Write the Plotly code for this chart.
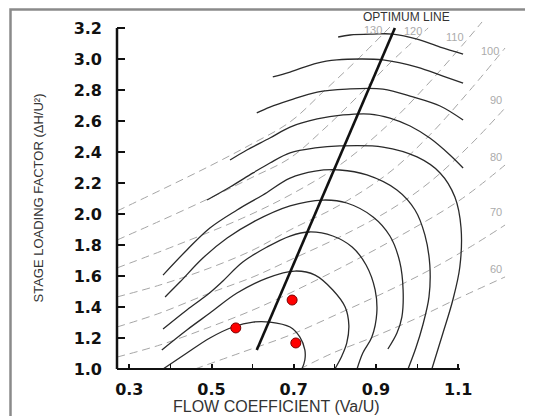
import plotly.graph_objects as go

# ---------------- data ----------------
c1_x = [0.808, 0.837, 0.893, 0.941, 1.000, 1.056, 1.112]
c1_y = [3.142, 3.155, 3.161, 3.161, 3.129, 3.077, 3.032]
c2_x = [0.649, 0.691, 0.757, 0.805, 0.861, 0.917, 1.000, 1.063, 1.112]
c2_y = [2.884, 2.916, 2.974, 2.994, 3.000, 2.994, 2.948, 2.890, 2.845]
c3_x = [0.610, 0.642, 0.691, 0.757, 0.829, 0.917, 0.990, 1.056, 1.112]
c3_y = [2.652, 2.690, 2.735, 2.787, 2.806, 2.806, 2.755, 2.697, 2.606]
c4_x = [0.545, 0.586, 0.642, 0.691, 0.757, 0.820, 0.885, 0.934, 0.983, 1.031, 1.080, 1.112]
c4_y = [2.348, 2.413, 2.490, 2.561, 2.613, 2.639, 2.645, 2.619, 2.568, 2.490, 2.381, 2.297]
c5_x = [0.489, 0.545, 0.601, 0.642, 0.691, 0.752, 0.812, 0.917, 1.000, 1.056, 1.092, 1.107, 1.104, 1.087, 1.063, 1.036]
c5_y = [2.090, 2.174, 2.265, 2.329, 2.394, 2.426, 2.439, 2.432, 2.368, 2.265, 2.110, 1.910, 1.658, 1.445, 1.232, 1.000]
c6_x = [0.382, 0.440, 0.496, 0.562, 0.625, 0.691, 0.752, 0.812, 0.878, 0.951, 0.995, 1.019, 1.031, 1.029, 1.014, 0.997, 0.978]
c6_y = [1.606, 1.768, 1.910, 2.026, 2.123, 2.232, 2.277, 2.284, 2.252, 2.155, 2.026, 1.865, 1.671, 1.465, 1.284, 1.135, 1.000]
c7_x = [0.387, 0.423, 0.479, 0.538, 0.601, 0.691, 0.771, 0.829, 0.893, 0.934, 0.958, 0.966, 0.963, 0.951, 0.929]
c7_y = [1.465, 1.561, 1.716, 1.845, 1.948, 2.052, 2.090, 2.071, 1.981, 1.858, 1.690, 1.510, 1.335, 1.232, 1.129]
c8_x = [0.382, 0.440, 0.489, 0.525, 0.576, 0.635, 0.691, 0.739, 0.795, 0.842, 0.876, 0.898, 0.902, 0.890, 0.868, 0.854]
c8_y = [1.258, 1.381, 1.477, 1.561, 1.690, 1.787, 1.858, 1.884, 1.858, 1.787, 1.671, 1.510, 1.361, 1.206, 1.103, 1.000]
c9_x = [0.379, 0.440, 0.496, 0.562, 0.635, 0.703, 0.752, 0.795, 0.825, 0.834, 0.829, 0.817, 0.800]
c9_y = [1.123, 1.252, 1.361, 1.490, 1.587, 1.632, 1.606, 1.510, 1.400, 1.284, 1.168, 1.084, 1.000]
c10_x = [0.382, 0.440, 0.496, 0.552, 0.601, 0.642, 0.691, 0.715, 0.727, 0.727, 0.720]
c10_y = [1.000, 1.103, 1.200, 1.271, 1.303, 1.303, 1.271, 1.206, 1.123, 1.058, 1.000]

contours_x = [c1_x, c2_x, c3_x, c4_x, c5_x, c6_x, c7_x, c8_x, c9_x, c10_x]
contours_y = [c1_y, c2_y, c3_y, c4_y, c5_y, c6_y, c7_y, c8_y, c9_y, c10_y]

opt_x = [0.610, 0.946]
opt_y = [1.123, 3.200]

angle_labels = ["130", "120", "110", "100", "90", "80", "70", "60"]
a130_x = [0.270, 0.387, 0.496, 0.593, 0.691, 0.771, 0.854, 0.934]
a130_y = [2.019, 2.168, 2.310, 2.445, 2.594, 2.787, 2.994, 3.206]
a120_x = [0.270, 0.3745, 0.496, 0.601, 0.691, 0.771, 0.854, 0.934, 1.027]
a120_y = [1.832, 1.955, 2.103, 2.239, 2.361, 2.542, 2.755, 2.974, 3.200]
a110_x = [0.270, 0.416, 0.576, 0.691, 0.812, 0.934, 1.031, 1.117, 1.158]
a110_y = [1.652, 1.800, 1.974, 2.123, 2.316, 2.587, 2.852, 3.110, 3.239]
a100_x = [0.270, 0.3745, 0.496, 0.601, 0.691, 0.812, 0.934, 1.031, 1.129, 1.214]
a100_y = [1.465, 1.542, 1.652, 1.768, 1.897, 2.058, 2.271, 2.510, 2.800, 3.071]
a90_x = [0.270, 0.3745, 0.496, 0.601, 0.691, 0.812, 0.934, 1.031, 1.129, 1.214]
a90_y = [1.271, 1.361, 1.490, 1.594, 1.703, 1.852, 2.026, 2.206, 2.445, 2.684]
a80_x = [0.270, 0.3745, 0.496, 0.601, 0.691, 0.837, 0.958, 1.1044, 1.214]
a80_y = [1.077, 1.155, 1.271, 1.381, 1.490, 1.684, 1.858, 2.090, 2.316]
a70_x = [0.4596, 0.5764, 0.691, 0.812, 0.934, 1.031, 1.129, 1.214]
a70_y = [1.000, 1.110, 1.219, 1.361, 1.510, 1.639, 1.787, 1.929]
a60_x = [0.715, 0.795, 0.893, 1.000, 1.097, 1.214]
a60_y = [1.000, 1.103, 1.206, 1.329, 1.452, 1.594]

angles_x = [a130_x, a120_x, a110_x, a100_x, a90_x, a80_x, a70_x, a60_x]
angles_y = [a130_y, a120_y, a110_y, a100_y, a90_y, a80_y, a70_y, a60_y]

pts_x = [0.559, 0.696, 0.705]
pts_y = [1.265, 1.445, 1.168]

x_ticks = [0.3, 0.5, 0.7, 0.9, 1.1]
x_minor = [0.4, 0.6, 0.8, 1.0]
y_ticks = [1.0, 1.2, 1.4, 1.6, 1.8, 2.0, 2.2, 2.4, 2.6, 2.8, 3.0, 3.2]

# ---------------- styles / layout ----------------
label_shift = [(-17, -3), (-15, -3), (-27, -15), (-15, -3), (-9, 8), (-9, 8), (-9, 13), (-9, 8)]
X_RANGE = [0.27, 1.2504]
Y_RANGE = [1.0, 3.2968]
AX_X_END = 1.1044
AX_Y_END = 3.2

# the page body adds an 8px margin, so the figure is 525x408 placed at (8, 8)
W, H = 525, 408
X_DOM = [109 / W, 512 / W]
Y_DOM = [(H - 361) / H, (H - 5) / H]


def paper_x(v):
    return X_DOM[0] + (v - X_RANGE[0]) / (X_RANGE[1] - X_RANGE[0]) * (X_DOM[1] - X_DOM[0])


def paper_y(v):
    return Y_DOM[0] + (v - Y_RANGE[0]) / (Y_RANGE[1] - Y_RANGE[0]) * (Y_DOM[1] - Y_DOM[0])


fig = go.Figure()

for i, lab in enumerate(angle_labels):
    fig.add_trace(go.Scatter(
        x=angles_x[i], y=angles_y[i], mode="lines",
        line=dict(color="#a6a6a6", width=1, dash="8px,5px", shape="spline"),
        hoverinfo="skip", showlegend=False))

for cx, cy in zip(contours_x, contours_y):
    fig.add_trace(go.Scatter(
        x=cx, y=cy, mode="lines",
        line=dict(color="#2a2a2a", width=1.3, shape="spline", smoothing=1.0),
        hoverinfo="skip", showlegend=False))

fig.add_trace(go.Scatter(
    x=opt_x, y=opt_y, mode="lines",
    line=dict(color="#111111", width=2.6),
    hoverinfo="skip", showlegend=False))

fig.add_trace(go.Scatter(
    x=pts_x, y=pts_y, mode="markers",
    marker=dict(size=10, color="#ff0000", line=dict(color="#7a0000", width=1)),
    cliponaxis=False, hoverinfo="skip", showlegend=False))

annotations = []
for i, lab in enumerate(angle_labels):
    dx, dy = label_shift[i]
    annotations.append(dict(
        x=angles_x[i][-1], y=angles_y[i][-1], xref="x", yref="y",
        text=lab, showarrow=False, xshift=dx, yshift=dy, borderpad=0,
        font=dict(family="Liberation Sans, Arial", size=11, color="#ababab")))

annotations.append(dict(
    x=opt_x[-1], y=opt_y[-1], xref="x", yref="y", text="OPTIMUM LINE",
    showarrow=False, xshift=12, yshift=11, borderpad=0,
    font=dict(family="Liberation Sans, Arial", size=12, color="#333333")))

annotations.append(dict(
    x=268 / W, y=(H - 398) / H, xref="paper", yref="paper",
    text="FLOW COEFFICIENT (Va/U)", showarrow=False, xanchor="center", yanchor="middle",
    font=dict(family="Liberation Sans, Arial", size=16, color="#333333")))

annotations.append(dict(
    x=31 / W, y=paper_y(0.5 * (Y_RANGE[0] + AX_Y_END)), xref="paper", yref="paper",
    text="STAGE LOADING FACTOR (ΔH/U²)",
    showarrow=False, textangle=-90, xanchor="center", yanchor="middle",
    font=dict(family="Liberation Sans, Arial", size=13, color="#333333")))

shapes = [
    # picture frame (only its top and left edges fall inside the window)
    dict(type="rect", xref="paper", yref="paper",
         x0=2.5 / W, x1=1.2, y0=-0.2, y1=(H - 1.5) / H,
         line=dict(color="#8a8a8a", width=2.5)),
    # axis lines
    dict(type="line", xref="paper", yref="paper",
         x0=X_DOM[0], x1=paper_x(AX_X_END), y0=Y_DOM[0], y1=Y_DOM[0],
         line=dict(color="#111111", width=2)),
    dict(type="line", xref="paper", yref="paper",
         x0=X_DOM[0], x1=X_DOM[0], y0=Y_DOM[0], y1=paper_y(AX_Y_END),
         line=dict(color="#111111", width=2.5)),
]

fig.update_layout(
    width=W, height=H,
    margin=dict(l=0, r=0, t=0, b=0),
    paper_bgcolor="white", plot_bgcolor="white",
    annotations=annotations, shapes=shapes,
    xaxis=dict(domain=X_DOM, range=X_RANGE, showgrid=False, zeroline=False, showline=False,
               automargin=False,
               tickvals=x_ticks, ticktext=[f"{v:.1f}" for v in x_ticks],
               ticks="inside", ticklen=5, tickwidth=1.5, tickcolor="#111",
               minor=dict(tickvals=x_minor, ticks="inside", ticklen=5, tickwidth=1.2, tickcolor="#111"),
               ticklabelstandoff=9,
               tickfont=dict(family="DejaVu Sans", size=16, weight="bold", color="#111")),
    yaxis=dict(domain=Y_DOM, range=Y_RANGE, showgrid=False, zeroline=False, showline=False,
               automargin=False,
               tickvals=y_ticks, ticktext=[f"{v:.1f}" for v in y_ticks],
               ticks="inside", ticklen=8, tickwidth=1.5, tickcolor="#111",
               ticklabelstandoff=14,
               tickfont=dict(family="DejaVu Sans", size=16, weight="bold", color="#111")),
)

fig.write_html("out.html")
